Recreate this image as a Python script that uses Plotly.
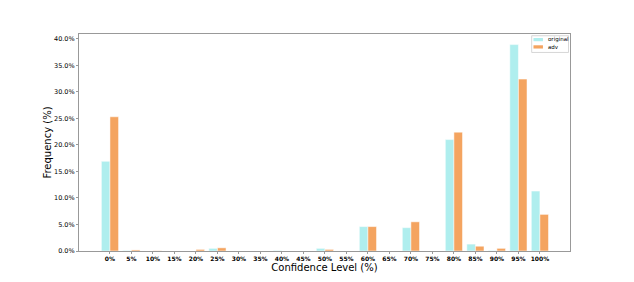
import plotly.graph_objects as go

categories = ["0%", "5%", "10%", "15%", "20%", "25%", "30%", "35%", "40%", "45%", "50%",
              "55%", "60%", "65%", "70%", "75%", "80%", "85%", "90%", "95%", "100%"]
original = [16.9, 0.1, 0.0, 0.0, 0.0, 0.5, 0.0, 0.0, 0.1, 0.0, 0.5,
            0.0, 4.6, 0.0, 4.4, 0.0, 21.0, 1.3, 0.1, 38.9, 11.3]
adv = [25.3, 0.2, 0.05, 0.0, 0.3, 0.6, 0.0, 0.0, 0.0, 0.0, 0.3,
       0.0, 4.6, 0.0, 5.5, 0.0, 22.4, 0.9, 0.5, 32.4, 6.9]
y_ticks = [0, 5, 10, 15, 20, 25, 30, 35, 40]
series_names = ["original", "adv"]
series_colors = ["#AFEEEE", "#F4A460"]

idx = list(range(len(categories)))
fig = go.Figure()
for name, vals, col in zip(series_names, [original, adv], series_colors):
    fig.add_trace(go.Bar(x=idx, y=vals, name=name, marker_color=col,
                         marker_line_color="white", marker_line_width=0.5,
                         showlegend=False))

# compact legend box (matplotlib style)
shapes = [dict(type="rect", xref="paper", yref="paper", x0=0.922, x1=0.997,
               y0=0.915, y1=0.992, line=dict(color="#cccccc", width=0.8),
               fillcolor="white", layer="above")]
annotations = []
sw_y = [(0.9667, 0.9815), (0.933, 0.948)]
txt_y = [0.974, 0.941]
for i, (name, col) in enumerate(zip(series_names, series_colors)):
    shapes.append(dict(type="rect", xref="paper", yref="paper", x0=0.9256, x1=0.9449,
                       y0=sw_y[i][0], y1=sw_y[i][1], line=dict(width=0),
                       fillcolor=col, layer="above"))
    annotations.append(dict(xref="paper", yref="paper", x=0.951, y=txt_y[i],
                            xanchor="left", yanchor="middle", text=name,
                            showarrow=False, font=dict(size=5.5)))

fig.update_layout(
    width=634, height=282,
    margin=dict(l=79, r=64, t=34, b=31),
    barmode="group", bargap=0.2, bargroupgap=0,
    paper_bgcolor="white", plot_bgcolor="white",
    font=dict(family="DejaVu Sans", color="black"),
    shapes=shapes, annotations=annotations,
    showlegend=False,
)
fig.update_xaxes(
    tickmode="array", tickvals=idx,
    ticktext=["<b>%s</b>" % c for c in categories],
    tickfont=dict(size=6),
    range=[-1.44, 21.4],
    showline=True, linecolor="#999999", linewidth=1, mirror=True,
    ticks="outside", ticklen=2, tickcolor="#999999",
    showgrid=False, zeroline=False,
    title=dict(text="Confidence Level (%)", font=dict(size=10), standoff=2),
)
fig.update_yaxes(
    tickmode="array", tickvals=y_ticks,
    ticktext=["%.1f%%" % v for v in y_ticks],
    tickfont=dict(size=6.5),
    range=[0, 40.9],
    showline=True, linecolor="#999999", linewidth=1, mirror=True,
    ticks="outside", ticklen=2, tickcolor="#999999",
    showgrid=False, zeroline=False,
    title=dict(text="Frequency (%)", font=dict(size=10), standoff=0),
)
fig.write_html("out.html", config={"displayModeBar": False},
               post_script="document.body.style.margin='0';")
